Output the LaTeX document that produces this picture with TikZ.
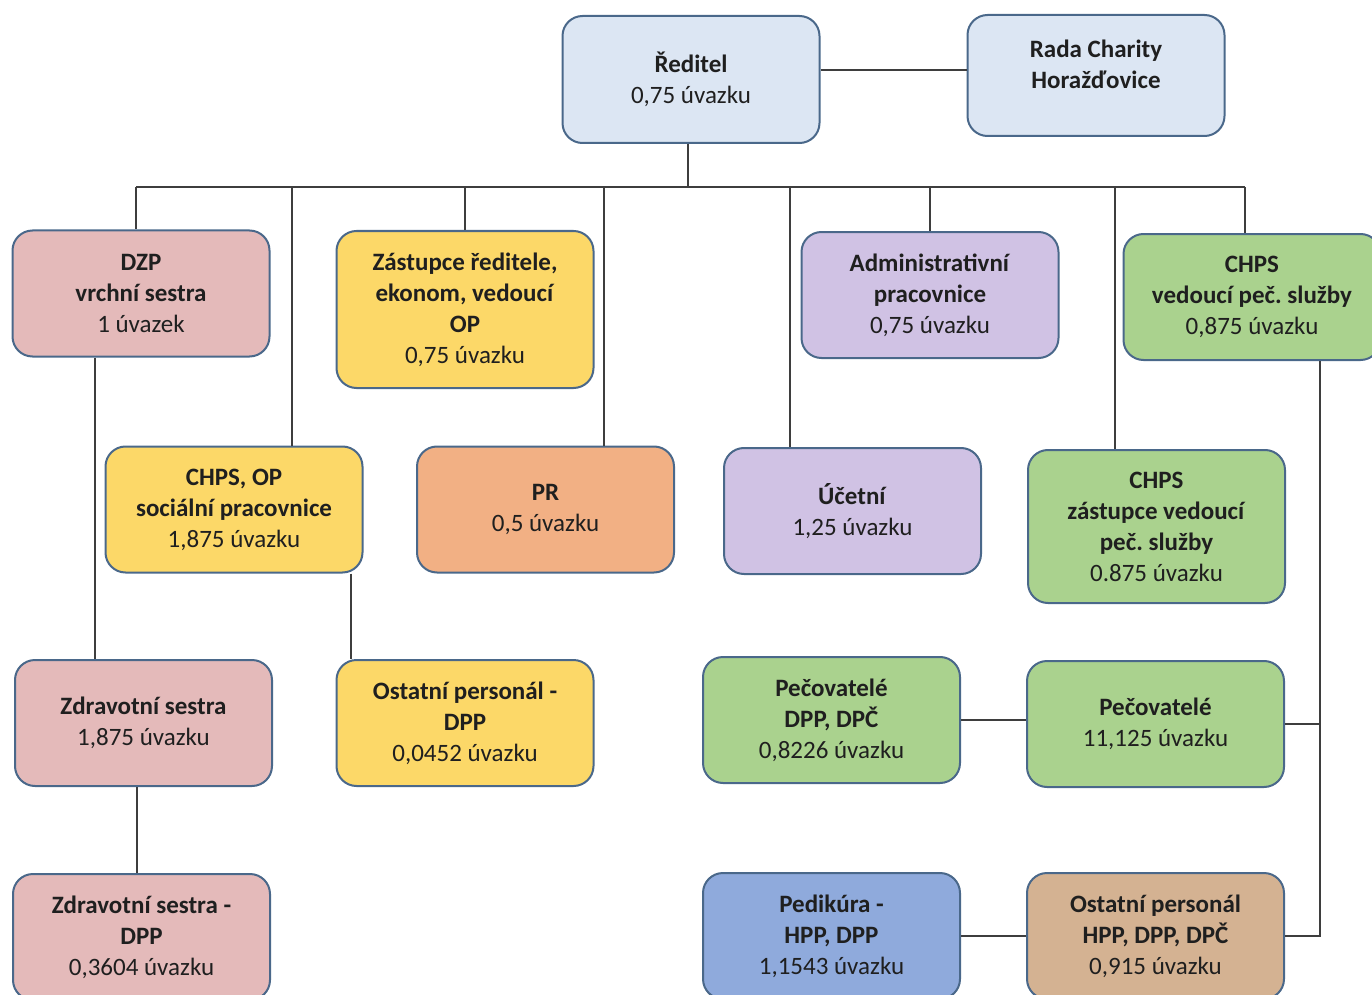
\documentclass[tikz,border=0pt]{standalone}
\usepackage{fontspec}
\setmainfont{Carlito}
\usepackage{tikz}
\usetikzlibrary{positioning}
\frenchspacing

\definecolor{okraj}{RGB}{74,104,138}
\definecolor{cara}{RGB}{62,62,62}
\definecolor{modra}{RGB}{220,230,243}
\definecolor{ruzova}{RGB}{228,186,186}
\definecolor{zluta}{RGB}{252,216,104}
\definecolor{oranzova}{RGB}{242,176,132}
\definecolor{fialova}{RGB}{208,194,228}
\definecolor{zelena}{RGB}{170,210,142}
\definecolor{sedomodra}{RGB}{143,170,220}
\definecolor{hneda}{RGB}{212,178,146}

\begin{document}
\begin{tikzpicture}[x=0.5pt, y=-0.5pt,
    org/.style={draw=okraj, line width=1pt, rounded corners=10pt, minimum width=128.5pt,
                minimum height=63pt, inner sep=8pt, align=center, text=black!88,
                font=\fontsize{12.5}{15.5}\selectfont},
    spoj/.style={draw=cara, line width=0.9pt}]
    \useasboundingbox (0,0) rectangle (1372,995);

    % vedeni
    \node[org, fill=modra, minimum height=63.5pt] (reditel) at (691,79.5) {\textbf{Ředitel}\\0,75 úvazku};
    \node[org, fill=modra, minimum height=60.5pt] (rada) at (1096,75.5) {\textbf{Rada Charity}\\\textbf{Horažďovice}\\[-4.5pt]\mbox{}};

    % prvni rada
    \node[org, fill=ruzova] (dzp) at (141,293.5) {\textbf{DZP}\\\textbf{vrchní sestra}\\1 úvazek};
    \node[org, fill=zluta, minimum height=78.5pt] (zastupce) at (465,309.5) {\textbf{Zástupce ředitele,}\\\textbf{ekonom, vedoucí}\\\textbf{OP}\\0,75 úvazku};
    \node[org, fill=fialova] (admin) at (930,295) {\textbf{Administrativní}\\\textbf{pracovnice}\\0,75 úvazku};
    \node[org, fill=zelena] (chpsved) at (1252,297) {\textbf{CHPS}\\\textbf{vedoucí peč. služby}\\0,875 úvazku};

    % druha rada
    \node[org, fill=zluta] (chpsop) at (234,509.5) {\textbf{CHPS, OP}\\\textbf{sociální pracovnice}\\1,875 úvazku};
    \node[org, fill=oranzova] (pr) at (545.5,509.5) {\textbf{PR}\\0,5 úvazku};
    \node[org, fill=fialova] (ucetni) at (852.5,511) {\textbf{Účetní}\\1,25 úvazku};
    \node[org, fill=zelena, minimum height=76.5pt] (chpszast) at (1156.5,526.5) {\textbf{CHPS}\\\textbf{zástupce vedoucí}\\\textbf{peč. služby}\\0.875 úvazku};

    % treti rada
    \node[org, fill=ruzova] (zdr) at (143.5,723) {\textbf{Zdravotní sestra}\\1,875 úvazku};
    \node[org, fill=zluta] (ostdpp) at (465,723) {\textbf{Ostatní personál -}\\\textbf{DPP}\\0,0452 úvazku};
    \node[org, fill=zelena] (pecdpp) at (831.5,720) {\textbf{Pečovatelé}\\\textbf{DPP, DPČ}\\0,8226 úvazku};
    \node[org, fill=zelena, right=32.5pt of pecdpp, yshift=-2pt] (pec) {\textbf{Pečovatelé}\\11,125 úvazku};

    % ctvrta rada
    \node[org, fill=ruzova] (zdrdpp) at (141.5,937) {\textbf{Zdravotní sestra -}\\\textbf{DPP}\\0,3604 úvazku};
    \node[org, fill=sedomodra, below=44pt of pecdpp] (pedik) {\textbf{Pedikúra -}\\\textbf{HPP, DPP}\\1,1543 úvazku};
    \node[org, fill=hneda, right=32.5pt of pedik] (ostatni) {\textbf{Ostatní personál}\\\textbf{HPP, DPP, DPČ}\\0,915 úvazku};

    % sbernice a odbocky
    \coordinate (bus) at (688,187);
    \coordinate (b0) at (136,187);
    \coordinate (b1) at (292,187);
    \coordinate (b2) at (604,187);
    \coordinate (b3) at (790,187);
    \coordinate (b4) at (1115,187);
    \coordinate (b5) at (1245,187);
    \coordinate (lv) at (95,0);
    \coordinate (mv) at (351,0);
    \coordinate (sv) at (137,0);
    \coordinate (rv) at (1320,0);

    \draw[spoj] (reditel.east |- 0,70) -- (rada.west |- 0,70);
    \draw[spoj] (reditel.south -| bus) -- (bus);
    \draw[spoj] (b0) -- (b5);
    \draw[spoj] (b0) -- (b0 |- dzp.north);
    \draw[spoj] (zastupce.north |- bus) -- (zastupce.north);
    \draw[spoj] (admin.north |- bus) -- (admin.north);
    \draw[spoj] (b5) -- (b5 |- chpsved.north);
    \draw[spoj] (b1) -- (b1 |- chpsop.north);
    \draw[spoj] (b2) -- (b2 |- pr.north);
    \draw[spoj] (b3) -- (b3 |- ucetni.north);
    \draw[spoj] (b4) -- (b4 |- chpszast.north);

    \draw[spoj] (lv |- dzp.south) -- (lv |- zdr.north);
    \draw[spoj] (mv |- chpsop.south) -- (mv |- ostdpp.north);
    \draw[spoj] (sv |- zdr.south) -- (sv |- zdrdpp.north);

    \draw[spoj] (pecdpp.east) -- (pecdpp.east -| pec.west);
    \draw[spoj] (pedik.east) -- (pedik.east -| ostatni.west);
    \draw[spoj] (rv |- chpsved.south) |- (ostatni.east);
    \draw[spoj] (pec.east) -- (pec.east -| rv);
\end{tikzpicture}
\end{document}
